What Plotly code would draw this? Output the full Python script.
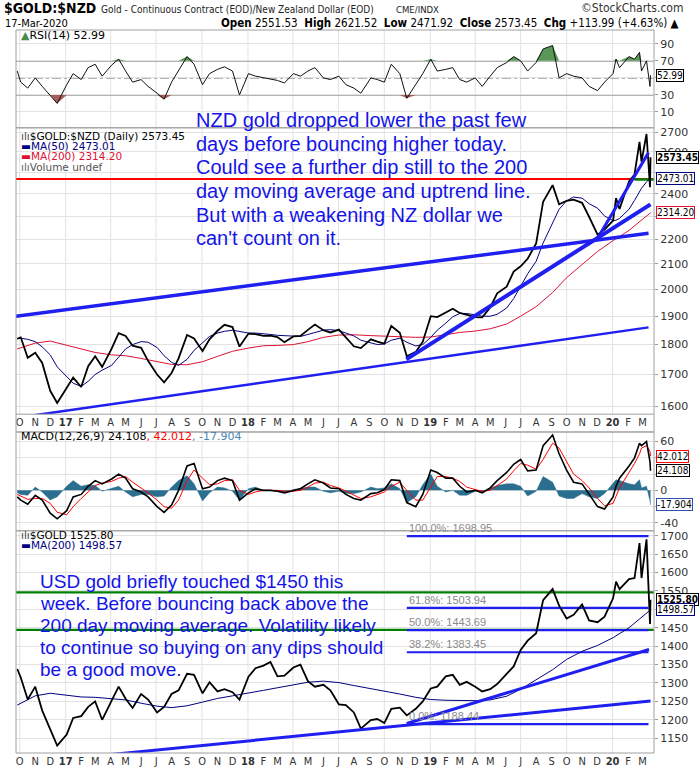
import numpy as np
import pandas as pd
import plotly.graph_objects as go

# ---------------- data ----------------
dates = ['2016-09-26','2016-10-03','2016-10-17','2016-11-01','2016-11-15','2016-12-01','2016-12-15',
 '2017-01-03','2017-01-16','2017-02-01','2017-02-15','2017-03-01','2017-03-15','2017-04-03','2017-04-17',
 '2017-05-01','2017-05-15','2017-06-01','2017-06-15','2017-07-03','2017-07-17','2017-08-01','2017-08-15',
 '2017-09-01','2017-09-15','2017-10-02','2017-10-16','2017-11-01','2017-11-15','2017-12-01','2017-12-15',
 '2018-01-02','2018-01-16','2018-02-01','2018-02-15','2018-03-01','2018-03-15','2018-04-02','2018-04-16',
 '2018-05-01','2018-05-15','2018-06-01','2018-06-15','2018-07-02','2018-07-16','2018-08-01','2018-08-15',
 '2018-09-04','2018-09-17','2018-10-01','2018-10-15','2018-11-01','2018-11-15','2018-12-03','2018-12-17',
 '2019-01-02','2019-01-15','2019-02-01','2019-02-15','2019-03-01','2019-03-15','2019-04-01','2019-04-15',
 '2019-05-01','2019-05-15','2019-06-03','2019-06-17','2019-07-01','2019-07-15','2019-08-01','2019-08-15',
 '2019-09-03','2019-09-16','2019-10-01','2019-10-15','2019-11-01','2019-11-15','2019-12-02','2019-12-16',
 '2020-01-02','2020-01-08','2020-01-15','2020-02-03','2020-02-14','2020-02-24','2020-02-28','2020-03-09',
 '2020-03-16','2020-03-17']

nzd_close = [1820,1825,1755,1772,1738,1648,1610,1655,1690,1660,1727,1760,1725,1786,1840,1830,1796,1789,1745,
 1700,1675,1705,1753,1833,1821,1778,1818,1848,1869,1861,1793,1838,1836,1830,1831,1826,1808,1828,1830,1851,
 1870,1850,1842,1852,1824,1794,1788,1818,1810,1803,1865,1841,1760,1775,1810,1900,1897,1913,1927,1912,1905,
 1897,1896,1932,1985,2010,2069,2090,2120,2183,2364,2440,2352,2368,2373,2359,2297,2220,2242,2280,2380,2331,
 2457,2490,2650,2552,2690,2430,2573.45]

nzd_ma50 = [1820,1822,1818,1810,1792,1765,1725,1692,1672,1662,1678,1700,1714,1730,1758,1785,1800,1810,1808,
 1790,1762,1740,1730,1750,1780,1808,1828,1840,1846,1850,1845,1840,1840,1836,1835,1832,1830,1828,1828,1835,
 1842,1850,1852,1848,1840,1830,1815,1805,1800,1802,1815,1822,1808,1795,1800,1825,1850,1875,1898,1910,1910,
 1905,1900,1900,1907,1930,1965,2012,2060,2110,2185,2270,2330,2368,2385,2380,2355,2335,2300,2280,2282,2290,
 2330,2370,2410,2425,2455,2470,2473.01]

rsi14 = [58,45,38,50,40,30,20,42,55,48,62,66,52,65,72,58,45,48,40,32,25,45,58,75,66,42,55,60,63,58,30,
 55,52,50,48,47,44,55,52,58,62,50,48,52,42,38,32,50,48,45,66,55,26,42,55,72,58,60,62,48,45,50,40,52,62,
 68,75,70,58,68,84,88,50,55,52,50,40,35,45,55,72,62,75,72,80,58,70,40,52.99]

macd_line = [-8,-12,-17,-6,-12,-28,-35,-25,-8,-5,5,12,8,14,20,15,2,-2,-8,-20,-27,-18,0,30,33,2,4,12,15,12,-12,
 -3,2,0,0,-1,-3,0,2,8,13,9,3,2,-5,-10,-12,-4,-3,1,13,12,-15,-20,-5,25,22,15,15,5,-2,0,-3,3,12,22,32,38,24,
 25,55,68,45,25,10,8,-5,-20,-23,-8,5,15,30,40,58,55,60,35,24.108]

macd_signal = [-5,-7,-11,-10,-10,-16,-27,-30,-20,-10,-2,6,9,11,15,17,10,3,-3,-12,-20,-22,-12,12,25,15,7,8,12,13,0,
 -5,-2,0,0,0,-1,-1,0,4,9,10,6,3,-1,-6,-10,-8,-5,-2,5,10,0,-12,-12,5,17,17,15,11,4,1,-1,0,6,14,24,33,31,
 26,38,58,52,35,20,12,3,-10,-19,-16,-8,3,22,33,45,52,55,48,42.012]

macd_hist = [-3,-5,-6,4,-2,-12,-8,5,12,5,7,6,-1,3,5,-2,-8,-5,-5,-8,-7,4,12,18,8,-13,-3,4,3,-1,-12,
 2,4,0,0,-1,-2,1,2,4,4,-1,-3,-1,-4,-4,-2,4,2,3,8,2,-15,-8,7,20,5,-2,0,-6,-6,-1,-2,3,6,8,8,5,-7,
 -1,17,10,-7,-10,-10,-4,-8,-10,-4,8,13,12,8,7,13,3,5,-13,-17.904]

usd_close = [1338,1315,1255,1290,1225,1172,1130,1160,1205,1210,1235,1250,1200,1252,1290,1257,1232,1270,1255,
 1220,1235,1270,1280,1325,1322,1272,1302,1277,1283,1275,1255,1317,1340,1347,1357,1318,1320,1342,1350,1305,
 1290,1295,1280,1242,1240,1220,1176,1199,1202,1191,1230,1233,1212,1230,1250,1285,1290,1318,1322,1295,1303,
 1290,1277,1283,1297,1325,1345,1390,1415,1435,1525,1555,1510,1475,1485,1513,1470,1465,1480,1530,1575,1555,
 1582,1585,1680,1585,1690,1460,1525.80]

ma_dates = ['2016-09-26','2016-11-01','2016-12-01','2017-01-03','2017-02-01','2017-03-01','2017-04-03',
 '2017-05-01','2017-06-01','2017-07-03','2017-08-01','2017-09-01','2017-10-02','2017-11-01','2017-12-01',
 '2018-01-02','2018-02-01','2018-03-01','2018-04-02','2018-05-01','2018-06-01','2018-07-02','2018-08-01',
 '2018-09-04','2018-10-01','2018-11-01','2018-12-03','2019-01-02','2019-02-01','2019-03-01','2019-04-01',
 '2019-05-01','2019-06-03','2019-07-01','2019-08-01','2019-09-03','2019-10-01','2019-11-01','2019-12-02',
 '2020-01-02','2020-02-03','2020-03-02','2020-03-17']

nzd_ma200 = [1785,1805,1812,1798,1784,1773,1765,1762,1753,1742,1733,1732,1742,1760,1777,1788,1796,1797,1800,
 1810,1825,1833,1834,1831,1829,1828,1825,1826,1834,1842,1847,1855,1872,1900,1935,1988,2045,2095,2150,2195,
 2238,2288,2314.20]

usd_ma200 = [1240,1265,1272,1266,1262,1261,1258,1254,1245,1237,1233,1238,1248,1258,1265,1272,1280,1287,1295,
 1302,1305,1301,1293,1285,1278,1270,1261,1255,1253,1252,1252,1254,1264,1283,1308,1336,1364,1386,1402,1423,
 1450,1480,1498.57]

# drawn trend / level lines (date, value pairs)
nzd_trend_a_x = ['2016-09-23', '2020-03-13']; nzd_trend_a_y = [1900, 2226]
nzd_trend_b_x = ['2016-09-23', '2020-03-13']; nzd_trend_b_y = [1565, 1860]
nzd_trend_c_x = ['2018-11-14', '2020-03-17']; nzd_trend_c_y = [1750, 2352]
nzd_trend_d_x = ['2019-12-02', '2020-03-13']; nzd_trend_d_y = [2205, 2596]
nzd_red_level = 2468
nzd_green_x = ['2020-02-14', '2020-03-24']; nzd_green_level = 2466

gold_trend_a_x = ['2016-09-23', '2020-03-17']; gold_trend_a_y = [1080, 1251]
gold_trend_b_x = ['2018-11-15', '2020-03-14']; gold_trend_b_y = [1190, 1391]
gold_green_levels = [1546, 1444]
fib_x = ['2018-11-15', '2020-03-13']
fib_levels = [1698.95, 1503.94, 1443.69, 1383.45, 1188.44]
fib_labels = ['100.0%: 1698.95', '61.8%: 1503.94', '50.0%: 1443.69', '38.2%: 1383.45', '0.0%: 1188.44']

# axis tick values (labels hidden behind value boxes are blanked)
rsi_ticks = [10, 30, 50, 70, 90]; rsi_hidden = [50]
main_ticks = list(range(1600, 2800, 100)); main_hidden = [2300, 2500]
macd_ticks = [-40, -20, 0, 20, 40, 60]; macd_hidden = [-20, 20, 40]
gold_ticks = list(range(1150, 1701, 50)); gold_hidden = [1500]

n = len(dates)
for arr in (nzd_close, nzd_ma50, rsi14, macd_line, macd_signal, macd_hist, usd_close):
    assert len(arr) == n, len(arr)
assert len(nzd_ma200) == len(ma_dates) == len(usd_ma200)

# ---------------- layout geometry ----------------
L, R, T, B = 16, 657, 30, 762
W, H = R - L, B - T
def px(x): return (x - L) / W
def py(y): return (B - y) / H

dom_rsi = [py(129), py(30)]
dom_main = [py(419), py(129)]
dom_macd = [py(537), py(437)]
dom_gold = [0, py(537)]

xr = ['2016-09-23 12:00', '2020-03-24 00:00']
BLUE = '#1f1ff0'
GRID = '#e2e2e2'
FRAME = '#a0a0a0'
TXT = '#333333'
NAVY = '#000080'
CRIM = '#dd1133'

months = pd.date_range('2016-10-01', '2020-03-01', freq='MS')
tickvals = [m.strftime('%Y-%m-%d') for m in months]
ticktext = [('<b>%s</b>' % m.strftime('%y')) if m.month == 1 else 'JFMAMJJASOND'[m.month - 1] for m in months]
quarters = [q.strftime('%Y-%m-%d') for q in pd.date_range('2016-10-01', '2020-01-01', freq='QS')]

fig = go.Figure()

def sc(x, y, ax, **kw):
    fig.add_trace(go.Scatter(x=x, y=y, xaxis='x' + ax, yaxis='y' + ax, mode='lines',
                             hoverinfo='skip', showlegend=False, **kw))

# RSI panel
rsi_arr = np.array(rsi14, dtype=float)
sc(dates, [70] * n, '', line=dict(width=0))
sc(dates, np.maximum(rsi_arr, 70), '', line=dict(width=0), fill='tonexty', fillcolor='rgba(80,145,80,0.95)')
sc(dates, [30] * n, '', line=dict(width=0))
sc(dates, np.minimum(rsi_arr, 30), '', line=dict(width=0), fill='tonexty', fillcolor='rgba(165,85,85,0.95)')
sc(dates, rsi14, '', line=dict(color='#111111', width=1))

# Main NZD panel
sc(xr, [nzd_red_level] * 2, '2', line=dict(color='#ff0000', width=2))
sc(nzd_green_x, [nzd_green_level] * 2, '2', line=dict(color='#008000', width=2.5))
sc(ma_dates, nzd_ma200, '2', line=dict(color=CRIM, width=1))
sc(dates, nzd_ma50, '2', line=dict(color=NAVY, width=1))
sc(dates, nzd_close, '2', line=dict(color='#000000', width=1.8))
sc(nzd_trend_a_x, nzd_trend_a_y, '2', line=dict(color=BLUE, width=3.5))
sc(nzd_trend_b_x, nzd_trend_b_y, '2', line=dict(color=BLUE, width=2.5))
sc(nzd_trend_c_x, nzd_trend_c_y, '2', line=dict(color=BLUE, width=4))
sc(nzd_trend_d_x, nzd_trend_d_y, '2', line=dict(color=BLUE, width=3))

# MACD panel
sc(dates, macd_hist, '3', line=dict(color='#2a6f8f', width=0.5), fill='tozeroy', fillcolor='#2a6f8f')
sc(dates, macd_signal, '3', line=dict(color='#ff0000', width=1))
sc(dates, macd_line, '3', line=dict(color='#000000', width=1.6))

# Gold USD panel
for lv in gold_green_levels:
    sc(xr, [lv] * 2, '4', line=dict(color='#008000', width=2.2))
for lv in fib_levels:
    sc(fib_x, [lv] * 2, '4', line=dict(color=BLUE, width=2.2))
sc(ma_dates, usd_ma200, '4', line=dict(color=NAVY, width=1))
sc(dates, usd_close, '4', line=dict(color='#000000', width=1.8))
sc(gold_trend_a_x, gold_trend_a_y, '4', line=dict(color=BLUE, width=3))
sc(gold_trend_b_x, gold_trend_b_y, '4', line=dict(color=BLUE, width=3))

# ---------------- axes ----------------
tickfont = dict(family='DejaVu Sans, Verdana, sans-serif', size=11, color=TXT)
xfont = dict(family='DejaVu Sans Condensed, Liberation Sans Narrow, sans-serif', size=11, color=TXT)

def xax(anchor, labels):
    d = dict(domain=[0, 1], anchor=anchor, range=xr, type='date', showgrid=False, zeroline=False,
             showline=False, tickmode='array', tickvals=tickvals, ticktext=ticktext,
             showticklabels=labels, ticks='', tickfont=xfont, tickangle=0)
    if anchor != 'y':
        d['matches'] = 'x'
    return d

def yax(dom, rng, tv, hidden, anchor, typ='linear'):
    return dict(domain=dom, range=rng, type=typ, side='right', anchor=anchor, tickmode='array',
                tickvals=tv, ticktext=['' if v in hidden else str(v) for v in tv],
                showgrid=True, gridcolor=GRID, gridwidth=1, zeroline=False, showline=False,
                ticks='outside', ticklen=3, tickcolor='#999', tickfont=tickfont, fixedrange=True)

fig.update_layout(
    xaxis=xax('y', False), xaxis2=xax('y2', True), xaxis3=xax('y3', False), xaxis4=xax('y4', True),
    yaxis=yax(dom_rsi, [-8.6, 106.2], rsi_ticks, rsi_hidden, 'x'),
    yaxis2=yax(dom_main, [np.log10(1576), np.log10(2722)], main_ticks, main_hidden, 'x2', typ='log'),
    yaxis3=yax(dom_macd, [-49.7, 71.8], macd_ticks, macd_hidden, 'x3'),
    yaxis4=yax(dom_gold, [1109.8, 1713.4], gold_ticks, gold_hidden, 'x4'),
)

# ---------------- shapes ----------------
shapes = []
for ax in ('', '2', '3', '4'):
    for q in quarters:
        shapes.append(dict(type='line', xref='x' + ax, yref='y%s domain' % ax, x0=q, x1=q, y0=0, y1=1,
                           line=dict(color=GRID, width=1), layer='below'))
for lv, dash in ((70, 'solid'), (30, 'solid'), (50, 'dashdot')):
    shapes.append(dict(type='line', xref='x domain', yref='y', x0=0, x1=1, y0=lv, y1=lv,
                       line=dict(color='#6a6a6a', width=1.3, dash=dash), layer='below'))
for y0, y1 in ((129, 30), (437, 129), (537, 437), (762, 537)):
    shapes.append(dict(type='rect', xref='paper', yref='paper', x0=0, x1=1, y0=py(y0), y1=py(y1),
                       line=dict(color=FRAME, width=1), layer='above'))
shapes.append(dict(type='line', xref='paper', yref='paper', x0=0, x1=1, y0=py(419), y1=py(419),
                   line=dict(color=FRAME, width=1), layer='above'))
fig.update_layout(shapes=shapes)

# ---------------- annotations ----------------
ann = []
def txt(x, y, s, size=11, color='#000', family='DejaVu Sans, Verdana, sans-serif', xanchor='left', **kw):
    ann.append(dict(xref='paper', yref='paper', x=px(x), y=py(y), text=s, showarrow=False,
                    xanchor=xanchor, yanchor='middle', font=dict(size=size, color=color, family=family), **kw))

NARROW = 'Liberation Sans Narrow, DejaVu Sans Condensed, Arial Narrow, sans-serif'
txt(2, 8, '<b>$GOLD:$NZD</b>', size=14, family=NARROW)
txt(99, 9, 'Gold - Continuous Contract (EOD)/New Zealand Dollar (EOD)', size=10, color='#222', family=NARROW)
txt(396, 9, 'CME/INDX', size=9.5, color='#222', family=NARROW)
txt(688, 8, '©StockCharts.com', size=12, color='#333', family=NARROW, xanchor='right')
txt(3, 23, '17-Mar-2020', size=11, family=NARROW)
txt(684, 23, '<b>Open</b> 2551.53  <b>High</b> 2621.52  <b>Low</b> 2471.92  <b>Close</b> 2573.45  '
             '<b>Chg</b> +113.99 (+4.63%) ▲', size=11.5, family=NARROW, xanchor='right')

txt(19, 36, '<span style="color:#4a8a4a">▲</span>RSI(14) 52.99', size=11)
txt(19, 137, '<span style="color:#444">ılı</span>$GOLD:$NZD (Daily) 2573.45', size=10.5)
txt(19, 147.5, '▬MA(50) 2473.01', size=10.5, color=NAVY)
txt(19, 158, '▬MA(200) 2314.20', size=10.5, color=CRIM)
txt(19, 168.5, '<span style="color:#666">ılı</span>Volume undef', size=10.5, color='#555')
txt(19, 442, 'MACD(12,26,9) 24.108<span style="color:#ff0000">, 42.012</span>'
             '<span style="color:#4a86b5">, -17.904</span>', size=11)
txt(19, 541, '<span style="color:#444">ılı</span>$GOLD 1525.80', size=10.5)
txt(19, 551, '▬MA(200) 1498.57', size=10.5, color=NAVY)

ARIAL = 'Liberation Sans, Arial, sans-serif'
main_note = ["NZD gold dropped lower the past few", "days before bouncing higher today.",
             "Could see a further dip still to the 200", "day moving average and uptrend line.",
             "But with a weakening NZ dollar we", "can't count on it."]
for i, s in enumerate(main_note):
    txt(195, 121 + 24 * i, s, size=20, color='#1414e8', family=ARIAL)
gold_note = ["USD gold briefly touched $1450 this", "week. Before bouncing back above the",
             "200 day moving average. Volatility likely", "to continue so buying on any dips should",
             "be a good move."]
for i, s in enumerate(gold_note):
    txt(38, 588 + 22.3 * i, s, size=19, color='#1414e8', family=ARIAL)

for lv, lab in zip(fib_levels, fib_labels):
    ann.append(dict(xref='x4', yref='y4', x=fib_x[0], y=lv, yshift=8, text=lab, showarrow=False,
                    xanchor='left', yanchor='middle',
                    font=dict(size=11, color='#8a8a8a', family=ARIAL)))

BOXFONT = 'DejaVu Sans Condensed, Liberation Sans Narrow, sans-serif'
def box(yref, yval, s, color, bold=False):
    ann.append(dict(xref='paper', yref=yref, x=1, xshift=2, y=yval, xanchor='left', yanchor='middle',
                    text=('<b>%s</b>' % s) if bold else s, showarrow=False,
                    bgcolor='white', bordercolor=color, borderwidth=1, borderpad=0,
                    font=dict(size=10, color='#000', family=BOXFONT)))

box('y', 52.99, '52.99', '#000')
box('y2', np.log10(2573.45), '2573.45', '#000', bold=True)
box('y2', np.log10(2473.01), '2473.01', NAVY)
box('y2', np.log10(2314.20), '2314.20', CRIM)
box('y3', 42.012, '42.012', '#ff0000')
box('y3', 24.108, '24.108', '#000')
box('y3', -17.904, '-17.904', '#3050b0')
box('y4', 1525.80, '1525.80', '#000', bold=True)
box('y4', 1498.57, '1498.57', NAVY)

fig.update_layout(annotations=ann, width=700, height=780, margin=dict(l=L, r=700 - R, t=T, b=780 - B),
                  paper_bgcolor='white', plot_bgcolor='white', showlegend=False,
                  font=dict(family='DejaVu Sans, Verdana, sans-serif', size=11, color=TXT))

fig.write_html('out.html')
